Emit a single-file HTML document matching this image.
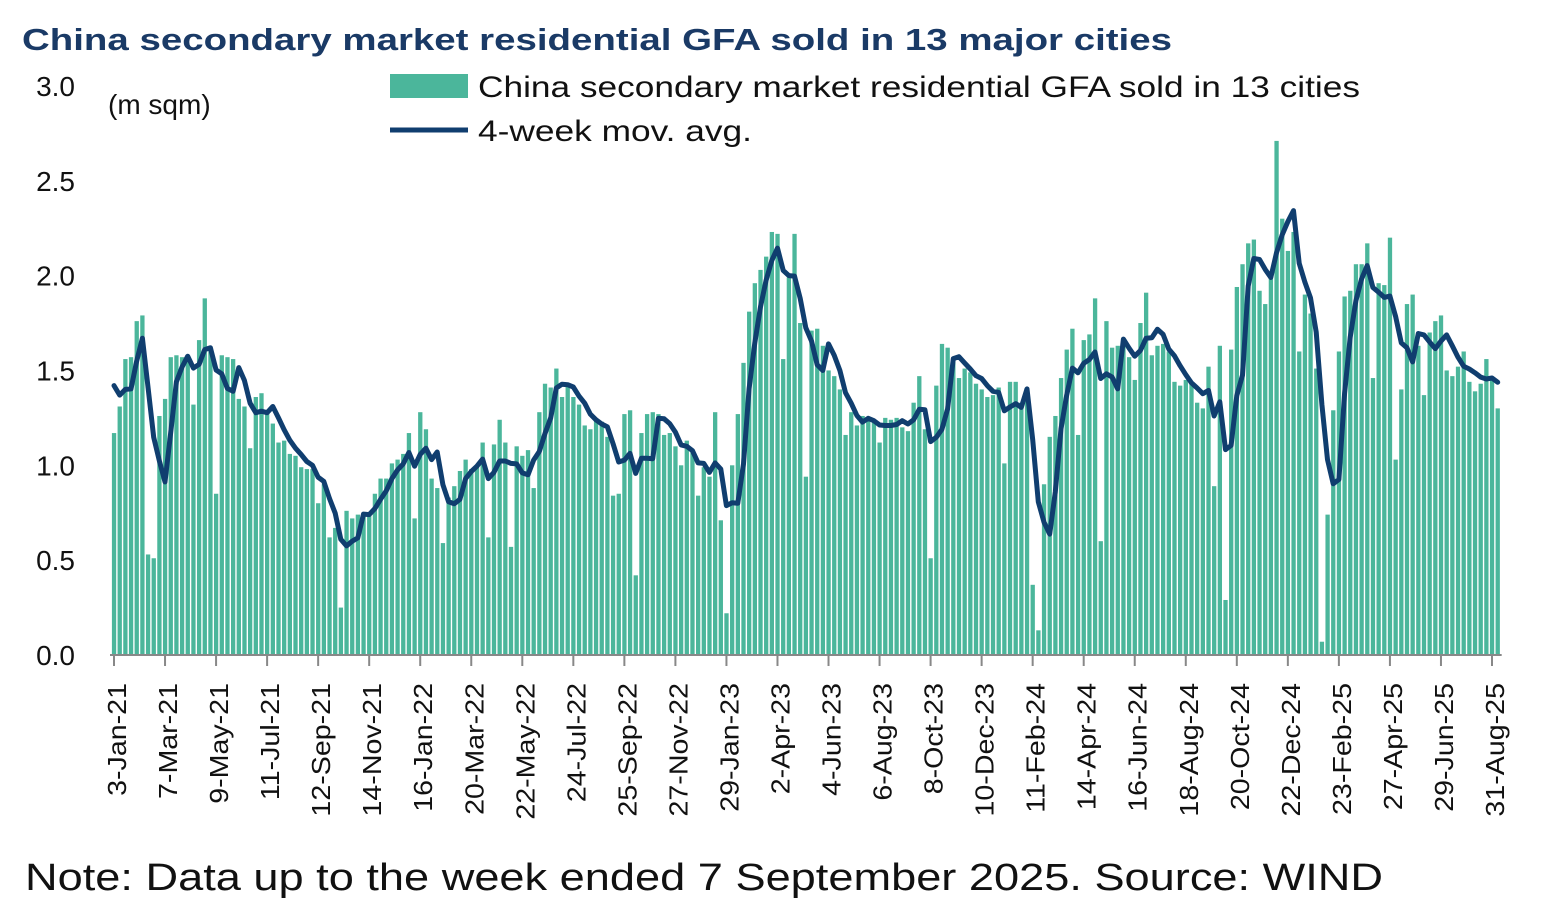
<!DOCTYPE html>
<html><head><meta charset="utf-8"><style>
html,body{margin:0;padding:0;background:#fff;}
svg{display:block;font-family:"Liberation Sans",sans-serif;}
</style></head><body>
<svg id="chart" width="1545" height="921" viewBox="0 0 1545 921" xmlns="http://www.w3.org/2000/svg">
<text x="22" y="50" font-size="31" font-weight="bold" fill="#1a3a66" textLength="1150" lengthAdjust="spacingAndGlyphs">China secondary market residential GFA sold in 13 major cities</text>
<text x="108" y="114" font-size="28" fill="#111">(m sqm)</text>
<g>
<rect x="390" y="74" width="78" height="24" fill="#4bb69b"/>
<text x="478" y="97" font-size="30" fill="#111" textLength="882" lengthAdjust="spacingAndGlyphs">China secondary market residential GFA sold in 13 cities</text>
<line x1="390" y1="130" x2="468" y2="130" stroke="#103e6f" stroke-width="5"/>
<text x="478" y="141" font-size="30" fill="#111" textLength="274" lengthAdjust="spacingAndGlyphs">4-week mov. avg.</text>
</g>
<g id="yaxis"></g>
<g id="bars"></g>
<g id="line"></g>
<g id="xaxis"></g>
<text x="25" y="890" font-size="38" fill="#111" textLength="1358" lengthAdjust="spacingAndGlyphs">Note: Data up to the week ended 7 September 2025. Source: WIND</text>
</svg>
<script>
const weeklyGFA = [
1.17,1.31,1.56,1.57,1.76,1.79,0.53,0.51,1.26,1.35,1.57,1.58,1.57,1.58,1.32,1.66,1.88,1.62,0.85,1.58,
1.57,1.56,1.35,1.31,1.09,1.36,1.38,1.28,1.22,1.12,1.13,1.06,1.05,0.99,0.98,0.98,0.80,0.90,0.62,0.67,
0.25,0.76,0.72,0.74,0.75,0.75,0.85,0.93,0.93,1.01,
1.03,1.06,1.17,0.72,1.28,1.19,0.93,0.88,0.59,0.83,0.89,0.97,1.03,0.98,1.00,1.12,0.62,1.11,1.24,1.12,
0.57,1.10,1.05,1.08,0.88,1.28,1.43,1.41,1.51,1.36,1.42,1.36,1.32,1.21,1.19,1.24,1.23,1.15,0.84,0.85,
1.27,1.29,0.42,1.17,1.27,1.28,1.27,1.16,1.17,
1.10,1.00,1.13,1.08,0.84,0.99,0.94,1.28,0.71,0.22,1.00,1.27,1.54,1.81,1.96,2.03,2.10,2.23,2.22,1.56,
1.99,2.22,1.75,0.94,1.71,1.72,1.63,1.50,1.47,1.40,1.16,1.28,1.21,1.26,1.24,1.23,1.12,1.25,1.24,1.25,
1.20,1.18,1.33,1.47,1.19,0.51,1.42,1.64,1.62,1.57,
1.46,1.51,1.49,1.43,1.40,1.36,1.37,1.41,1.01,1.44,1.44,1.33,1.40,0.37,0.13,0.90,1.15,1.26,1.46,1.61,
1.72,1.16,1.66,1.69,1.88,0.60,1.76,1.62,1.63,1.65,1.57,1.45,1.75,1.91,1.58,1.63,1.64,1.60,1.44,1.42,
1.45,1.43,1.33,1.30,1.52,0.89,1.63,0.29,1.61,
1.94,2.06,2.17,2.19,1.92,1.85,2.00,2.71,2.30,2.13,2.23,1.60,1.90,1.80,1.51,0.07,0.74,1.29,1.60,1.89,
1.92,2.06,2.06,2.17,1.46,1.96,1.95,2.20,1.03,1.40,1.85,1.90,1.63,1.37,1.70,1.76,1.79,1.50,1.47,1.52,
1.60,1.44,1.39,1.43,1.56,1.46,1.30
];
const priorWeeks = [1.51,1.44,1.56];
const yTickValues = [0,0.5,1.0,1.5,2.0,2.5,3.0];
const yTickLabels = ["0.0","0.5","1.0","1.5","2.0","2.5","3.0"];
const xTickLabels = ["3-Jan-21","7-Mar-21","9-May-21","11-Jul-21","12-Sep-21","14-Nov-21","16-Jan-22","20-Mar-22","22-May-22","24-Jul-22","25-Sep-22","27-Nov-22","29-Jan-23","2-Apr-23","4-Jun-23","6-Aug-23","8-Oct-23","10-Dec-23","11-Feb-24","14-Apr-24","16-Jun-24","18-Aug-24","20-Oct-24","22-Dec-24","23-Feb-25","27-Apr-25","29-Jun-25","31-Aug-25"];
const weeksPerTick = 9;

const NS="http://www.w3.org/2000/svg";
const x0=114, step=(1492-114)/243, yBase=655, pxPerUnit=189.7;
function xPos(i){return x0+step*i;}
function yPos(v){return yBase-v*pxPerUnit;}
function mk(tag,attrs,parent){const e=document.createElementNS(NS,tag);for(const k in attrs)e.setAttribute(k,attrs[k]);parent.appendChild(e);return e;}

const yg=document.getElementById('yaxis');
yTickValues.forEach((v,k)=>{
  const t=mk('text',{x:75,y:yPos(v)+10,'font-size':28,'text-anchor':'end',fill:'#111'},yg);
  
  
  t.textContent=yTickLabels[k];
});

const bg=document.getElementById('bars');
weeklyGFA.forEach((v,i)=>{
  const r=mk('rect',{x:xPos(i)-2.1,y:yPos(v),width:4.3,height:v*pxPerUnit,fill:'#4bb69b'},bg);
  
  
});

const all=priorWeeks.concat(weeklyGFA);
const pts=weeklyGFA.map((v,i)=>{
  const j=i+priorWeeks.length;
  const avg=(all[j]+all[j-1]+all[j-2]+all[j-3])/4;
  return xPos(i).toFixed(1)+','+yPos(avg).toFixed(1);
});
const pl=mk('polyline',{points:pts.join(' '),fill:'none',stroke:'#103e6f','stroke-width':5,'stroke-linejoin':'round','stroke-linecap':'round'},document.getElementById('line'));



const xg=document.getElementById('xaxis');
const ax=mk('line',{x1:110,y1:yBase,x2:xPos(weeklyGFA.length-1)+4,y2:yBase,stroke:'#888','stroke-width':2},xg);


xTickLabels.forEach((lab,k)=>{
  const x=xPos(k*weeksPerTick);
  const tk=mk('line',{x1:x,y1:yBase,x2:x,y2:yBase+11,stroke:'#888','stroke-width':2},xg);
  
  
  const t=mk('text',{x:0,y:0,'font-size':26,'text-anchor':'end',fill:'#111',transform:'translate('+(x+12)+','+(yBase+28)+') rotate(-90)'},xg);
  
  
  t.textContent=lab;
  const L=t.getComputedTextLength();
  if(L>0){t.setAttribute('textLength',(L*1.1).toFixed(1));t.setAttribute('lengthAdjust','spacingAndGlyphs');}
});
</script>
</body></html>
